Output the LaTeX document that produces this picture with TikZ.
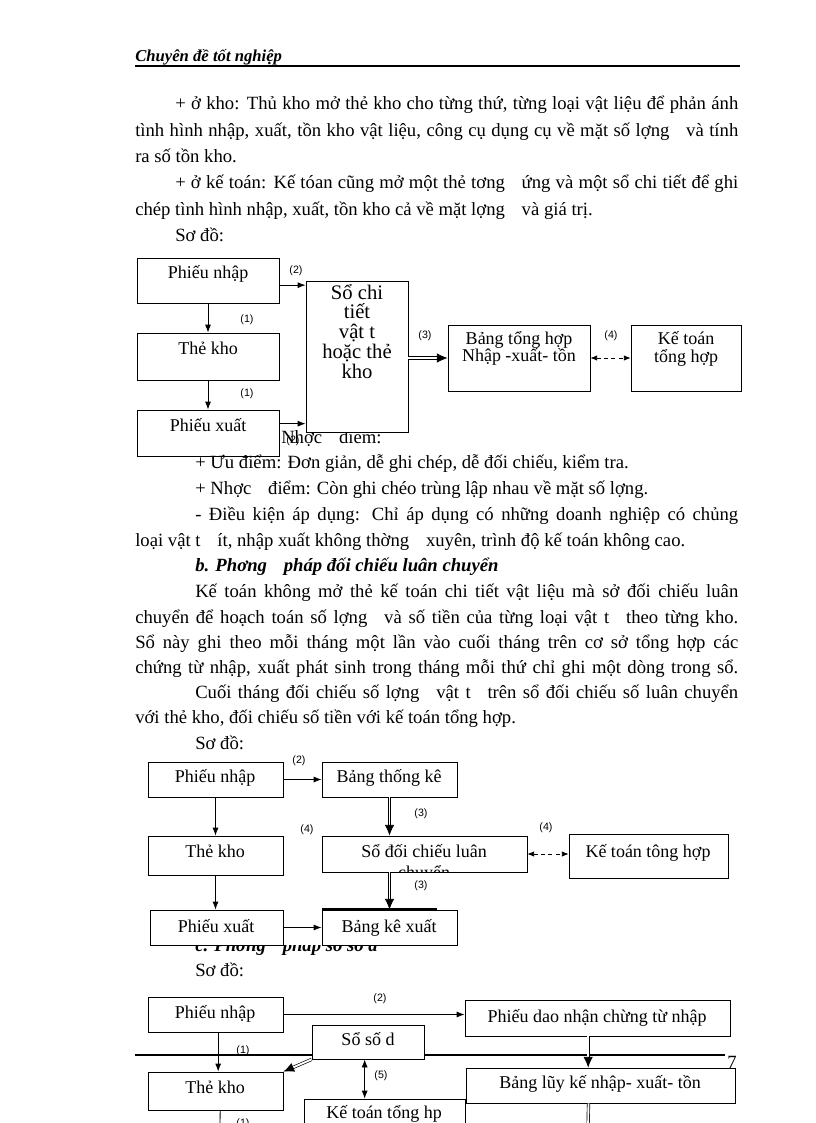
\documentclass[tikz,border=0pt]{standalone}
\usepackage{fontspec}
\setmainfont{Liberation Serif}
\newfontfamily\lblfont{Liberation Sans}
\usetikzlibrary{arrows.meta,calc,fit}

\tikzset{
  box/.style={draw,line width=0.6pt,fill=white,inner sep=0pt},
  txt/.style={anchor=base west,inner sep=0pt,font=\fontsize{14}{16}\selectfont},
  btxt/.style={anchor=base,inner sep=0pt,font=\fontsize{13.5}{16}\selectfont},
  num/.style={inner sep=0pt,font=\lblfont\fontsize{8}{9}\selectfont},
  arr/.style={line width=0.6pt,-{Latex[length=6pt,width=4.5pt]}},
  dblline/.style={double,double distance=1.4pt,line width=0.5pt,shorten >=5pt},
  dtip/.style={line width=0.5pt,-{Latex[length=8pt,width=7pt]}},
  dsh/.style={line width=0.6pt,dash pattern=on 3pt off 2.5pt,{Latex[length=5pt,width=4pt]}-{Latex[length=5pt,width=4pt]}},
}
\newcommand\jline[4]{\node[txt] (#1) at (#2) {\makebox[\dimexpr#3pt*3/4\relax][s]{#4}};}
\newcommand\dblarr[2]{\draw[dblline] (#1) -- (#2); \draw[dtip] ($(#2)!8pt!(#1)$) -- (#2);}
\newcommand\gap{\hspace{0.9em}}

\begin{document}
\begin{tikzpicture}[x=0.75pt,y=-0.75pt]
\useasboundingbox (0,0) rectangle (816,1123);

% header
\node[anchor=base west,inner sep=0pt,font=\bfseries\itshape\fontsize{12.5}{14}\selectfont] (hdr) at (135,62) {Chuyên đề tốt nghiệp};
\draw[line width=1.8pt] (135,66) -- (740,66);

% text above the first scheme
\jline{t1}{175,110}{563}{+ ở kho: Thủ kho mở thẻ kho cho từng thứ, từng loại vật liệu để phản ánh}
\jline{t2}{135,137}{603}{tình hình nhập, xuất, tồn kho vật liệu, công cụ dụng cụ về mặt số lợng\gap và tính}
\node[txt] (t3) at (135,163) {ra số tồn kho.};
\jline{t4}{175,189}{563}{+ ở kế toán: Kế tóan cũng mở một thẻ tơng\gap ứng và một sổ chi tiết để ghi}
\node[txt] (t5) at (135,215) {chép tình hình nhập, xuất, tồn kho cả về mặt lợng\gap và giá trị.};
\node[txt] (t6) at (175,241) {Sơ đồ:};

% scheme 1
\node[txt] (t7) at (281,443) {Nhợc\gap điểm:};
\node[box,fit={(137,258) (279,303)}] (pnA) {};
\node[box,fit={(137,333) (279,380)}] (tkA) {};
\node[box,fit={(137,410) (279,456)}] (pxA) {};
\node[box,fit={(306,281) (408,432)}] (sct) {};
\node[box,fit={(448,325) (590,391)}] (bth) {};
\node[box,fit={(631,325) (741,391)}] (ktA) {};
\node[btxt] (pnAt) at (208,278) {Phiếu nhập};
\node[btxt] (tkAt) at (208,354) {Thẻ kho};
\node[btxt] (pxAt) at (208,431) {Phiếu xuất};
\node[anchor=north,align=center,inner sep=0pt,font=\fontsize{15.5}{14.8}\selectfont] (sctt) at (357,284) {Sổ chi\\tiết\\vật t\\hoặc thẻ\\kho};
\node[anchor=north,align=center,inner sep=0pt,font=\fontsize{13.5}{12.8}\selectfont] (btht) at (519,331) {Bảng tổng hợp\\Nhập -xuất- tồn};
\node[anchor=north,align=center,inner sep=0pt,font=\fontsize{13.5}{13.5}\selectfont] (ktAt) at (686,331) {Kế toán\\tổng hợp};

\draw[arr] (pnA.south) -- (tkA.north);
\draw[arr] (tkA.south) -- (pxA.north);
\draw[arr] ([yshift=-3.5pt]pnA.east) -- ([yshift=-3.5pt]pnA.east -| sct.west);
\draw[arr] ([yshift=7pt]pxA.east) -- ([yshift=7pt]pxA.east -| sct.west);
\coordinate (dA1) at (sct.east |- bth.west);
\dblarr{dA1}{bth.west}
\draw[dsh] (bth.east) -- (ktA.west);

\node[num] (nA1) at (296,271) {(2)};
\node[num] (nA2) at (247,320) {(1)};
\node[num] (nA3) at (247,394) {(1)};
\node[num] (nA4) at (293,441) {(2)};
\node[num] (nA5) at (425,336) {(3)};
\node[num] (nA6) at (611,336) {(4)};

% text between the schemes
\node[txt] (t8) at (195,468) {+ Ưu điểm: Đơn giản, dễ ghi chép, dễ đối chiếu, kiểm tra.};
\node[txt] (t9) at (195,494) {+ Nhợc\gap điểm: Còn ghi chéo trùng lập nhau về mặt số lợng.};
\jline{t10}{195,520}{543}{- Điều kiện áp dụng: Chỉ áp dụng có những doanh nghiệp có chủng}
\node[txt] (t11) at (135,546) {loại vật t\gap ít, nhập xuất không thờng\gap xuyên, trình độ kế toán không cao.};
\node[txt,font=\bfseries\itshape\fontsize{14}{16}\selectfont] (t12) at (195,571) {b. Phơng\gap pháp đối chiếu luân chuyển};
\jline{t13}{195,597}{543}{Kế toán không mở thẻ kế toán chi tiết vật liệu mà sở đối chiếu luân}
\jline{t14}{135,623}{603}{chuyển để hoạch toán số lợng\gap và số tiền của từng loại vật t\gap theo từng kho.}
\jline{t15}{135,648}{603}{Sổ này ghi theo mỗi tháng một lần vào cuối tháng trên cơ sở tổng hợp các}
\jline{t16}{135,673}{603}{chứng từ nhập, xuất phát sinh trong tháng mỗi thứ chỉ ghi một dòng trong sổ.}
\jline{t17}{195,698}{543}{Cuối tháng đối chiếu số lợng\gap vật t\gap trên sổ đối chiếu số luân chuyển}
\node[txt] (t18) at (135,723) {với thẻ kho, đối chiếu số tiền với kế toán tổng hợp.};
\node[txt] (t19) at (195,749) {Sơ đồ:};

% scheme 2
\node[box,fit={(148,762) (283,797)}] (pnB) {};
\node[box,fit={(322,762) (457,797)}] (btk) {};
\node[box,fit={(148,836) (283,875)}] (tkB) {};
\node[box,fit={(322,836) (527,872)}] (sdc) {};
\node[box,fit={(569,834) (728,878)}] (ktB) {};
\node[box,fit={(150,910) (283,945)}] (pxB) {};
\node[box,fit={(322,910) (457,945)}] (bkx) {};
\draw[line width=1.2pt] (322,909) -- (437,909);
\node[btxt] (pnBt) at (215,782) {Phiếu nhập};
\node[btxt] (btkt) at (389,782) {Bảng thống kê};
\node[btxt] (tkBt) at (215,857) {Thẻ kho};
\node[btxt] (sdct) at (424,857) {Sổ đối chiếu luân};
\begin{scope}
\clip (322,836) rectangle (527,872);
\node[btxt] (sdct2) at (424,878) {chuyển};
\end{scope}
\node[btxt] (ktBt) at (648,857) {Kế toán tông hợp};
\node[btxt] (pxBt) at (216,932) {Phiếu xuất};
\node[btxt] (bkxt) at (389,932) {Bảng kê xuất};

\draw[arr] (pnB.east) -- (btk.west);
\draw[arr] (pnB.south) -- (pnB.south |- tkB.north);
\draw[arr] (tkB.south) -- (tkB.south |- pxB.north);
\draw[arr] (pxB.east) -- (pxB.east -| bkx.west);
\coordinate (dB1) at (btk.south |- sdc.north);
\coordinate (dB2) at (bkx.north |- sdc.south);
\dblarr{btk.south}{dB1}
\dblarr{dB2}{bkx.north}
\draw[dsh] (sdc.east) -- (sdc.east -| ktB.west);

\node[num] (nB1) at (299,761) {(2)};
\node[num] (nB2) at (421,814) {(3)};
\node[num] (nB3) at (307,830) {(4)};
\node[num] (nB4) at (546,828) {(4)};
\node[num] (nB5) at (421,886) {(3)};

\begin{scope}
\clip (150,945) rectangle (520,975);
\node[txt,font=\bfseries\itshape\fontsize{14}{16}\selectfont] (t20) at (195,951) {c. Phơng\gap pháp sổ số d};
\end{scope}
\node[txt] (t21) at (195,976) {Sơ đồ:};

% scheme 3
\draw[line width=1.5pt] (135,1055) -- (725,1055);
\node[txt] (pg) at (727,1068) {7};
\node[box,fit={(148,997) (283,1032)}] (pnC) {};
\node[box,fit={(465,1000) (730,1036)}] (pdn) {};
\node[box,fit={(312,1025) (424,1059)}] (sosd) {};
\node[box,fit={(148,1072) (283,1110)}] (tkC) {};
\node[box,fit={(304,1099) (465,1140)}] (ktC) {};
\node[box,fit={(466,1068) (735,1103)}] (blk) {};
\node[btxt] (pnCt) at (215,1018) {Phiếu nhập};
\node[btxt] (pdnt) at (597,1022) {Phiếu dao nhận chừng từ nhập};
\node[btxt] (sosdt) at (368,1045) {Sổ số d};
\node[btxt] (tkCt) at (215,1093) {Thẻ kho};
\node[btxt] (ktCt) at (384,1118) {Kế toán tổng hp};
\node[btxt] (blkt) at (600,1088) {Bảng lũy kế nhập- xuất- tồn};
\coordinate (endA) at (588,1130);
\coordinate (endB) at (220,1130);

\draw[arr] (pnC.east) -- (pnC.east -| pdn.west);
\draw[arr] ([xshift=2pt]pnC.south) -- ([xshift=2pt]pnC.south |- tkC.north);
\dblarr{sosd.south west}{tkC.north east}
\draw[line width=0.6pt,{Latex[length=6pt,width=4.5pt]}-{Latex[length=6pt,width=4.5pt]}] ([xshift=-2.5pt]sosd.south) -- ([xshift=-2.5pt]sosd.south |- ktC.north);
\coordinate (dC1) at ([xshift=-7pt]pdn.south);
\coordinate (dC2) at (dC1 |- blk.north);
\dblarr{dC1}{dC2}
\draw[double,double distance=1.4pt,line width=0.5pt] ([xshift=-9pt]blk.south) -- (endA);
\draw[line width=0.6pt] ([xshift=3.5pt]tkC.south) -- (endB);

\node[num] (nC1) at (380,999) {(2)};
\node[num] (nC2) at (243,1051) {(1)};
\node[num] (nC3) at (381,1076) {(5)};
\node[num] (nC4) at (243,1124) {(1)};
\end{tikzpicture}
\end{document}
